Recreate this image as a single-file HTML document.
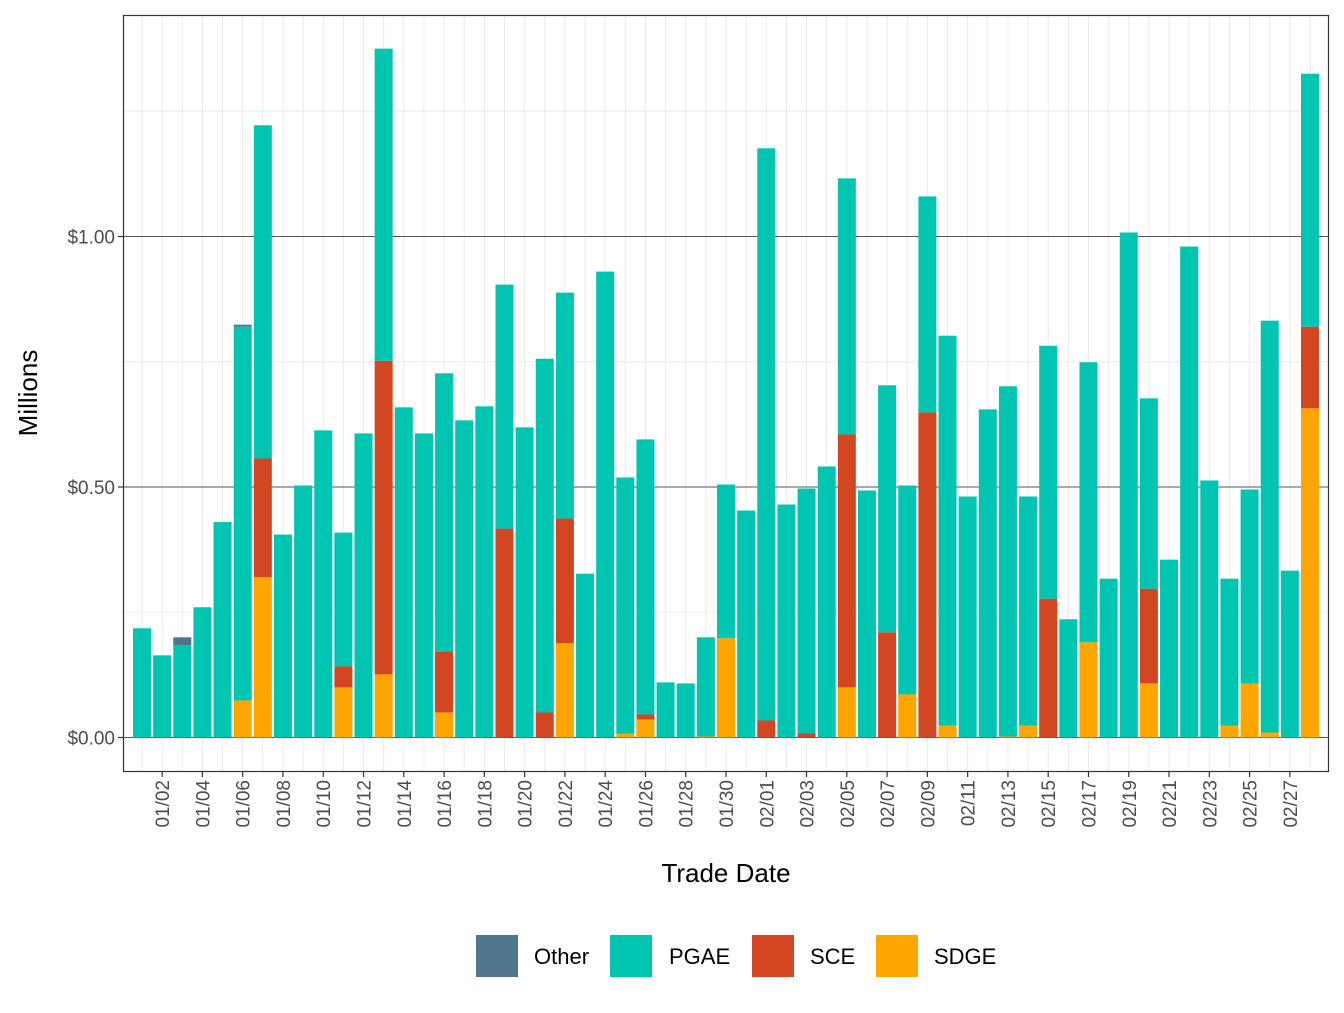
<!DOCTYPE html>
<html><head><meta charset="utf-8"><style>
body{margin:0;background:#fff;}
svg text{font-family:"Liberation Sans",sans-serif;}
</style></head><body>
<svg id="chart" width="1344" height="1008" xmlns="http://www.w3.org/2000/svg">
<rect x="0" y="0" width="1344" height="1008" fill="#fff"/>
<g id="grid"></g>
<g id="bars"></g>
<rect x="123.5" y="15.5" width="1205" height="756" fill="none" stroke="#333" stroke-width="1.2"/>
<g id="axes"></g>
<text x="726" y="882" font-size="26" text-anchor="middle" fill="#000">Trade Date</text>
<text transform="translate(37,393) rotate(-90)" font-size="26" text-anchor="middle" fill="#000">Millions</text>
<g>
<rect x="476" y="935" width="42" height="42" fill="#50768c"/>
<text x="534" y="964" font-size="22">Other</text>
<rect x="610" y="935" width="42" height="42" fill="#00c5b0"/>
<text x="669" y="964" font-size="22">PGAE</text>
<rect x="752" y="935" width="42" height="42" fill="#d24622"/>
<text x="810" y="964" font-size="22">SCE</text>
<rect x="876" y="935" width="42" height="42" fill="#ffa500"/>
<text x="934" y="964" font-size="22">SDGE</text>
</g>
</svg>
<script>
const dates = ["01/01","01/02","01/03","01/04","01/05","01/06","01/07","01/08","01/09","01/10","01/11","01/12","01/13","01/14","01/15","01/16","01/17","01/18","01/19","01/20","01/21","01/22","01/23","01/24","01/25","01/26","01/27","01/28","01/29","01/30","01/31","02/01","02/02","02/03","02/04","02/05","02/06","02/07","02/08","02/09","02/10","02/11","02/12","02/13","02/14","02/15","02/16","02/17","02/18","02/19","02/20","02/21","02/22","02/23","02/24","02/25","02/26","02/27","02/28"];
const sdge = [0,0,0,0,0,0.074,0.32,0,0,0,0.1,0,0.126,0,0,0.05,0,0,0,0,0,0.188,0,0,0.008,0.036,0,0,0.002,0.198,0,0,0,0,0,0.1,0,0,0.086,0,0.024,0,0,0.002,0.024,0,0,0.19,0,0,0.108,0,0,0,0.024,0.108,0.01,0,0.657];
const sce = [0,0,0,0,0,0,0.237,0,0,0,0.042,0,0.626,0,0,0.122,0,0,0.417,0,0.05,0.249,0,0,0,0.01,0,0,0,0,0,0.034,0,0.008,0,0.505,0,0.21,0,0.649,0,0,0,0,0,0.277,0,0,0,0,0.189,0,0,0,0,0,0,0,0.163];
const pgae = [0.218,0.164,0.184,0.26,0.43,0.746,0.665,0.405,0.503,0.613,0.267,0.607,0.623,0.659,0.607,0.555,0.633,0.661,0.487,0.619,0.706,0.451,0.327,0.93,0.511,0.549,0.11,0.108,0.198,0.307,0.453,1.142,0.465,0.489,0.541,0.511,0.493,0.493,0.417,0.431,0.778,0.481,0.655,0.699,0.457,0.505,0.236,0.559,0.317,1.008,0.38,0.355,0.98,0.513,0.293,0.387,0.822,0.333,0.505];
const other = [0,0,0.016,0,0,0.004,0,0,0,0,0,0,0,0,0,0,0,0,0,0,0,0,0,0,0,0,0,0,0,0,0,0,0,0,0,0,0,0,0,0,0,0,0,0,0,0,0,0,0,0,0,0,0,0,0,0,0,0,0];
const yTicks = [0,0.5,1.0];
const yTickLabels = ["$0.00","$0.50","$1.00"];
const yMinor = [0.25,0.75,1.25];

const NS="http://www.w3.org/2000/svg";
const x0=142, step=(1310-142)/58;
const xs = i => x0 + step*i;
const ys = v => 737.5 - v*501;
function mk(tag, attrs, parent){const e=document.createElementNS(NS,tag);for(const k in attrs)e.setAttribute(k,attrs[k]);parent.appendChild(e);return e;}
const grid=document.getElementById('grid'), bars=document.getElementById('bars'), axes=document.getElementById('axes');
yMinor.forEach(v=>{
  const l=mk('line',{x1:124,x2:1328,y1:ys(v),y2:ys(v),stroke:'#ebebeb','stroke-width':1},grid);
  
  
});
dates.forEach((d,i)=>{
  const l=mk('line',{x1:xs(i),x2:xs(i),y1:16,y2:771,stroke:'#ebebeb','stroke-width':1},grid);
  
  
});
yTicks.forEach((v,k)=>{
  const l=mk('line',{x1:124,x2:1328,y1:ys(v),y2:ys(v),stroke:'#555','stroke-width':0.9},grid);
  
  
  const t=mk('line',{x1:118,x2:123,y1:ys(v),y2:ys(v),stroke:'#333','stroke-width':1.2},axes);
  
  
  const tx=mk('text',{x:115,y:ys(v)+7,'font-size':19,'text-anchor':'end',fill:'#4d4d4d'},axes);
  tx.textContent=yTickLabels[k];
  
  
});
const series=[[sdge,'#ffa500','sdge'],[sce,'#d24622','sce'],[pgae,'#00c5b0','pgae'],[other,'#50768c','other']];
dates.forEach((d,i)=>{
  let base=0;
  series.forEach(([arr,col,nm])=>{
    const v=arr[i]; if(v<=0) return;
    const r=mk('rect',{x:xs(i)-9,width:18,y:ys(base+v),height:ys(base)-ys(base+v),fill:col},bars);
    
    
    base+=v;
  });
  if(i%2===1){
    const t=mk('line',{x1:xs(i),x2:xs(i),y1:772,y2:777,stroke:'#333','stroke-width':1.2},axes);
    
    
    const tx=mk('text',{transform:`translate(${xs(i)+7},780) rotate(-90)`,'font-size':19,'text-anchor':'end',fill:'#4d4d4d'},axes);
    tx.textContent=d;
    
    
  }
});
</script>
</body></html>
